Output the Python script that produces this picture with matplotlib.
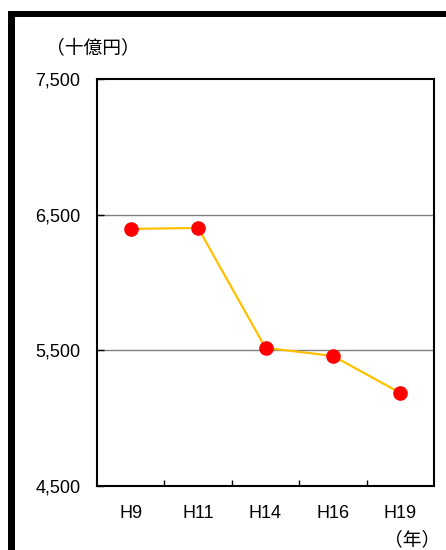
import matplotlib.pyplot as plt
import matplotlib.patches as mpatches
import matplotlib.ticker as mtick

plt.rcParams['font.family'] = ['Liberation Sans', 'Noto Sans CJK JP', 'DejaVu Sans']

years = ['H9', 'H11', 'H14', 'H16', 'H19']
values = [6395, 6402, 5518, 5459, 5186]
yticks = [4500, 5500, 6500, 7500]

fig = plt.figure(figsize=(4.46, 5.5), dpi=100)

# thick black frame (top and left edge)
fig.add_artist(mpatches.Rectangle((8 / 446, 1 - 17 / 550), 1, 6 / 550,
                                  transform=fig.transFigure, color='black', lw=0))
fig.add_artist(mpatches.Rectangle((8 / 446, 0), 7 / 446, 1 - 11 / 550,
                                  transform=fig.transFigure, color='black', lw=0))

ax = fig.add_axes([97 / 446, 1 - 486 / 550, 337 / 446, 407 / 550])

x = list(range(len(years)))
ax.plot(x, values, color='#FFC000', linewidth=1.6, zorder=3)
ax.plot(x, values, 'o', color='#FF0000', markersize=9.5, zorder=4)

ax.set_xlim(-0.5, len(years) - 0.5)
ax.set_ylim(4500, 7500)

ax.set_xticks(x)
ax.set_xticklabels(years)
ax.xaxis.set_minor_locator(mtick.FixedLocator([i + 0.5 for i in range(len(years) - 1)]))
ax.tick_params(axis='x', which='major', length=0, pad=14, labelsize=13)
ax.tick_params(axis='x', which='minor', direction='in', length=4, width=1)

ax.set_yticks(yticks)
ax.set_yticklabels([f'{v:,}' for v in yticks])
ax.tick_params(axis='y', direction='in', length=5, width=1, pad=12, labelsize=13)

for v in [5500, 6500]:
    ax.axhline(v, color='#808080', linewidth=1, zorder=1)

for s in ax.spines.values():
    s.set_linewidth(1.5)
    s.set_color('black')

jp = ['Noto Sans CJK JP', 'DejaVu Sans']
fig.text(93 / 446, 1 - 49 / 550, '（十億円）', fontsize=13.5, va='center', ha='center', family=jp)
fig.text(412 / 446, 1 - 540 / 550, '（年）', fontsize=13.5, va='center', ha='center', family=jp)

fig.savefig('out.png', dpi=100)
